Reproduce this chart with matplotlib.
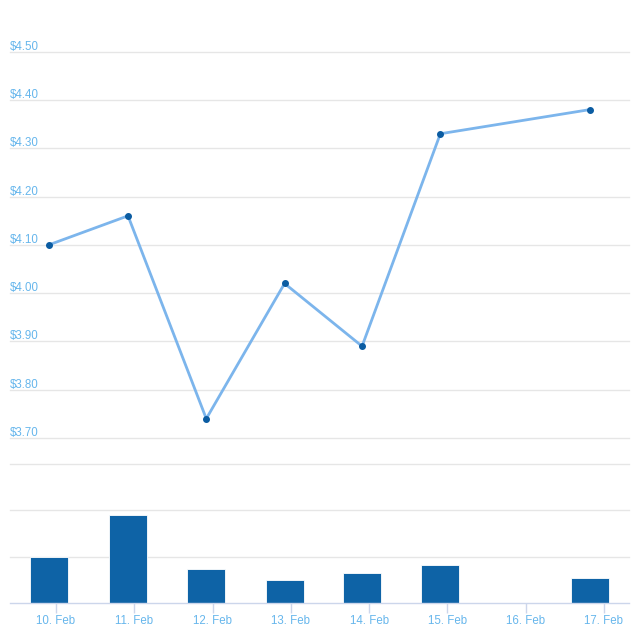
import matplotlib
matplotlib.use("Agg")
import matplotlib.pyplot as plt
import matplotlib.transforms as mtransforms

# ---- data ----
days = [10, 11, 12, 13, 14, 15, 17]            # day of February
day_offset = [-0.09, -0.08, -0.08, -0.08, -0.09, -0.09, -0.18]  # time-of-day shift of the samples
price = [4.10, 4.16, 3.74, 4.02, 3.89, 4.33, 4.38]
volume = [1.0, 1.91, 0.73, 0.50, 0.64, 0.82, 0.54]
tick_days = [10, 11, 12, 13, 14, 15, 16, 17]
tick_labels = ["10. Feb", "11. Feb", "12. Feb", "13. Feb", "14. Feb", "15. Feb", "16. Feb", "17. Feb"]
price_ticks = [3.70, 3.80, 3.90, 4.00, 4.10, 4.20, 4.30, 4.40, 4.50]
price_tick_labels = ["$%.2f" % v for v in price_ticks]
volume_grid = [1, 2, 3]

x = [d + o for d, o in zip(days, day_offset)]

plt.rcParams['font.family'] = ['Liberation Sans', 'DejaVu Sans']
LABEL = '#66b6ec'
GRID = '#e6e6e6'
AXIS = '#ccd6eb'

W = H = 640
fig = plt.figure(figsize=(6.4, 6.4), dpi=100)

xmin, xmax = 9.4125, 17.32
left = 10 / W
width = 619 / W

# top pane (price)
ax = fig.add_axes([left, (H - 438) / H, width, (438 - 27.5) / H])
ax.set_xlim(xmin, xmax)
ax.set_ylim(3.70, 4.55)
for s in ax.spines.values():
    s.set_visible(False)
ax.set_xticks([])
ax.set_yticks([])
for v, lab in zip(price_ticks, price_tick_labels):
    ax.axhline(v, color=GRID, lw=1, zorder=0, clip_on=False)
    trans = mtransforms.offset_copy(ax.get_yaxis_transform(), fig=fig, x=0, y=-1, units='dots')
    ax.text(0, v, lab, transform=trans, ha='left', va='bottom', color=LABEL, fontsize=8.3)
ax.plot(x, price, color='#7cb5ec', lw=2, zorder=2, clip_on=False)
ax.plot(x, price, ls='none', marker='o', ms=4.0, color='#0b5ca2', mec='#0b5ca2', zorder=3, clip_on=False)

# bottom pane (volume)
bx = fig.add_axes([left, (H - 603) / H, width, (603 - 464) / H])
bx.set_xlim(xmin, xmax)
bx.set_ylim(0, 3)
for s in bx.spines.values():
    s.set_visible(False)
bx.spines['bottom'].set_visible(True)
bx.spines['bottom'].set_color(AXIS)
bx.spines['bottom'].set_linewidth(1)
bx.set_yticks([])
for v in volume_grid:
    bx.axhline(v, color=GRID, lw=1, zorder=0, clip_on=False)
bx.bar(x, volume, width=0.485, color='#0e63a6', edgecolor='#ffffff', linewidth=0.6, zorder=2)
bx.set_xticks(tick_days)
bx.set_xticklabels(tick_labels)
bx.tick_params(axis='x', direction='out', length=7.2, width=1, color=AXIS, labelcolor=LABEL,
               labelsize=8.3, pad=1.5)

fig.savefig("out.png", dpi=100)
